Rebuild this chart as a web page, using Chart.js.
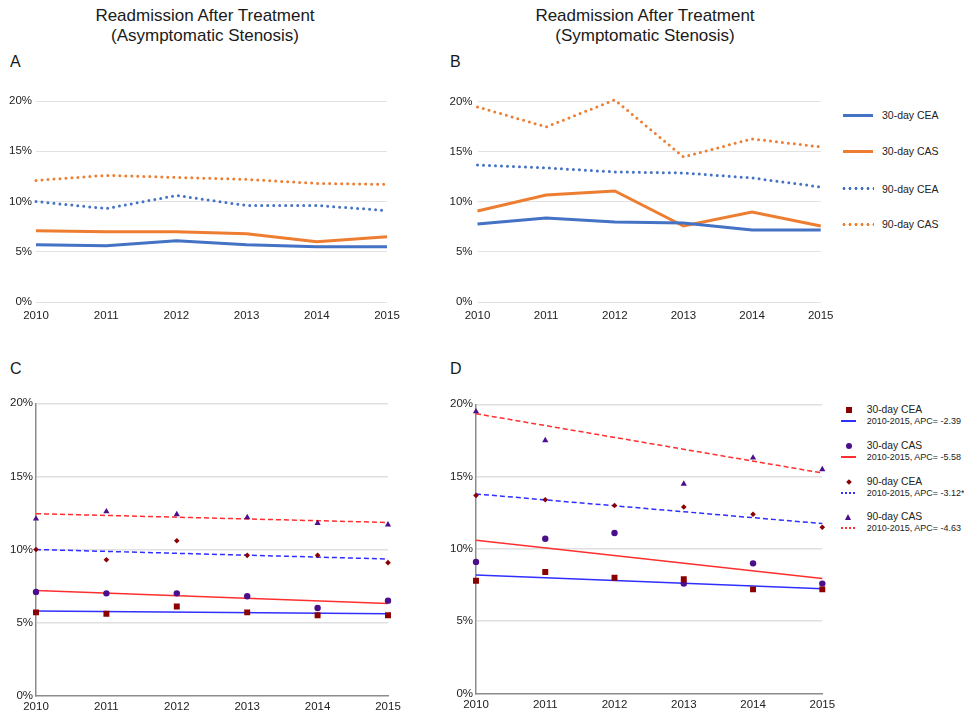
<!DOCTYPE html>
<html>
<head>
<meta charset="utf-8">
<script src="https://cdn.jsdelivr.net/npm/chart.js@4"></script>
<style>
  html, body { margin: 0; padding: 0; background: #fff; }
  body { width: 964px; height: 716px; position: relative; overflow: hidden;
         font-family: "Liberation Sans", Arial, sans-serif; color: #222; }
  canvas { position: absolute; }
  .title { position: absolute; width: 300px; text-align: center; font-size: 17px;
           line-height: 20px; color: #1a1a1a; }
  .letter { position: absolute; font-size: 16px; line-height: 16px; color: #1a1a1a; }
  .lg { position: absolute; font-size: 10.5px; line-height: 12px; white-space: nowrap; color: #222; }
  .sub { position: absolute; font-size: 9px; line-height: 10px; white-space: nowrap; color: #222; }
  .sw { position: absolute; }
</style>
</head>
<body>
<div class="title" style="left:55px;top:6px">Readmission After Treatment<br>(Asymptomatic Stenosis)</div>
<div class="title" style="left:495px;top:6px">Readmission After Treatment<br>(Symptomatic Stenosis)</div>
<div class="letter" style="left:10px;top:53.5px">A</div>
<div class="letter" style="left:450px;top:53.5px">B</div>
<div class="letter" style="left:10px;top:360.5px">C</div>
<div class="letter" style="left:450px;top:360.5px">D</div>

<canvas id="chartA" width="420" height="240" style="left:0;top:90px"></canvas>
<canvas id="chartB" width="400" height="240" style="left:440px;top:90px"></canvas>
<canvas id="chartC" width="420" height="326" style="left:0;top:390px"></canvas>
<canvas id="chartD" width="400" height="326" style="left:440px;top:390px"></canvas>
<div id="legendB"></div>
<div id="legendD"></div>

<script>
// Years on the x axis
const years = ['2010', '2011', '2012', '2013', '2014', '2015'];
const yTicks = [0, 5, 10, 15, 20];
const seriesNames = ['30-day CEA', '30-day CAS', '90-day CEA', '90-day CAS'];

// Readmission rates (%), asymptomatic stenosis
const cea30Asym = [5.7, 5.6, 6.1, 5.7, 5.5, 5.5];
const cas30Asym = [7.1, 7.0, 7.0, 6.8, 6.0, 6.5];
const cea90Asym = [10.0, 9.3, 10.6, 9.6, 9.6, 9.1];
const cas90Asym = [12.1, 12.6, 12.4, 12.2, 11.8, 11.7];

// Readmission rates (%), symptomatic stenosis
const cea30Sym = [7.8, 8.4, 8.0, 7.9, 7.2, 7.2];
const cas30Sym = [9.1, 10.7, 11.1, 7.6, 9.0, 7.6];
const cea90Sym = [13.7, 13.4, 13.0, 12.9, 12.4, 11.5];
const cas90Sym = [19.5, 17.5, 20.2, 14.5, 16.3, 15.5];

// Fitted trend, value at 2010 and at 2015 (%)
const trendCea30Asym = [5.8, 5.6];
const trendCas30Asym = [7.2, 6.3];
const trendCea90Asym = [10.0, 9.35];
const trendCas90Asym = [12.45, 11.85];
const trendCea30Sym = [8.2, 7.25];
const trendCas30Sym = [10.6, 7.95];
const trendCea90Sym = [13.8, 11.75];
const trendCas90Sym = [19.35, 15.25];

// Annual percent change for the symptomatic trends
const apcLabels = ['-2.39', '-5.58', '-3.12*', '-4.63'];
const trendPeriod = '2010-2015';

const BLUE = '#4472c4';
const ORANGE = '#ed7d31';
const DARK_RED = '#8b0000';
const INDIGO = '#4b0f8c';
const LINE_BLUE = '#2f2fff';
const LINE_RED = '#ff2f2f';
const FONT = { family: '"Liberation Sans", Arial, sans-serif', size: 11.5 };

function lineChart(id, series, yWidth, padRight, yPad) {
  const dotted = { borderDash: [0, 6], borderCapStyle: 'round' };
  const base = { borderWidth: 3, pointRadius: 0, tension: 0, clip: false, fill: false };
  return new Chart(document.getElementById(id), {
    type: 'line',
    data: {
      labels: years,
      datasets: [
        Object.assign({ data: series[0], borderColor: BLUE }, base),
        Object.assign({ data: series[1], borderColor: ORANGE }, base),
        Object.assign({ data: series[2], borderColor: BLUE }, base, dotted),
        Object.assign({ data: series[3], borderColor: ORANGE }, base, dotted)
      ]
    },
    options: {
      responsive: false, animation: false, events: [],
      layout: { padding: { left: 0, top: 11, right: padRight, bottom: 0 } },
      plugins: { legend: { display: false }, tooltip: { enabled: false } },
      scales: {
        x: {
          grid: { display: false, drawTicks: false }, border: { display: false },
          ticks: { font: FONT, color: '#222', padding: 6.5, maxRotation: 0, autoSkip: false },
          afterFit(s) { s.height = 28; }
        },
        y: {
          min: 0, max: 20,
          afterBuildTicks(s) { s.ticks = yTicks.map(v => ({ value: v })); },
          ticks: { font: FONT, color: '#222', padding: yPad, callback: v => v + '%' },
          grid: { color: '#e2e2e2', lineWidth: 1, drawTicks: false },
          border: { display: false },
          afterFit(s) { s.width = yWidth; }
        }
      }
    }
  });
}

function trendData(t) {
  return years.map((_, i) => i === 0 ? t[0] : (i === years.length - 1 ? t[1] : null));
}

function trendChart(id, series, trends, padTop, padRight, xHeight) {
  const clip = { left: 8, top: 0, right: 8, bottom: 8 };
  const marker = (data, style, color, r) => ({
    data, showLine: false, pointStyle: style, pointRadius: r,
    pointBackgroundColor: color, pointBorderColor: color, pointBorderWidth: 0, clip
  });
  const trend = (t, color, dash) => ({
    data: trendData(t), borderColor: color, borderWidth: 1.5, pointRadius: 0,
    spanGaps: true, tension: 0, borderDash: dash, clip: false
  });
  return new Chart(document.getElementById(id), {
    type: 'line',
    data: {
      labels: years,
      datasets: [
        marker(series[0], 'rect', DARK_RED, 4.2),
        marker(series[1], 'circle', INDIGO, 3.2),
        marker(series[2], 'rectRot', DARK_RED, 2.8),
        marker(series[3], 'triangle', INDIGO, 3.6),
        trend(trends[0], LINE_BLUE, []),
        trend(trends[1], LINE_RED, []),
        trend(trends[2], LINE_BLUE, [5, 3]),
        trend(trends[3], LINE_RED, [5, 3])
      ]
    },
    options: {
      responsive: false, animation: false, events: [],
      layout: { padding: { left: 0, top: padTop, right: padRight, bottom: 0 } },
      plugins: { legend: { display: false }, tooltip: { enabled: false } },
      scales: {
        x: {
          grid: { display: false, drawTicks: false },
          border: { display: true, color: '#8c8c8c', width: 1.5 },
          ticks: { font: FONT, color: '#222', padding: 4.5, maxRotation: 0, autoSkip: false },
          afterFit(s) { s.height = xHeight; }
        },
        y: {
          min: 0, max: 20,
          afterBuildTicks(s) { s.ticks = yTicks.map(v => ({ value: v })); },
          ticks: { font: FONT, color: '#222', padding: 3, callback: v => v + '%' },
          grid: {
            color: c => (c.tick && c.tick.value === 0) ? 'rgba(0,0,0,0)' : '#e0e0e0',
            lineWidth: 1.5, drawTicks: false
          },
          border: { display: true, color: '#8c8c8c', width: 1.5 },
          afterFit(s) { s.width = 36; }
        }
      }
    }
  });
}

lineChart('chartA', [cea30Asym, cas30Asym, cea90Asym, cas90Asym], 36, 33, 4);
lineChart('chartB', [cea30Sym, cas30Sym, cea90Sym, cas90Sym], 37.5, 14, 5);
trendChart('chartC', [cea30Asym, cas30Asym, cea90Asym, cas90Asym],
  [trendCea30Asym, trendCas30Asym, trendCea90Asym, trendCas90Asym], 13.3, 32, 20.3);
trendChart('chartD', [cea30Sym, cas30Sym, cea90Sym, cas90Sym],
  [trendCea30Sym, trendCas30Sym, trendCea90Sym, trendCas90Sym], 14.3, 17.7, 22.5);

// Legend for panel B: line swatches
(function () {
  const host = document.getElementById('legendB');
  const rows = [115, 151, 188.5, 224];
  const colors = [BLUE, ORANGE, BLUE, ORANGE];
  seriesNames.forEach((name, i) => {
    const sw = document.createElement('div');
    sw.className = 'sw';
    const y = rows[i];
    if (i < 2) {
      sw.style.cssText = `left:843px;top:${y - 1.5}px;width:30px;height:3px;background:${colors[i]};`;
    } else {
      sw.style.cssText = `left:841px;top:${y - 1.5}px;width:33px;height:3px;` +
        `background-image:radial-gradient(circle, ${colors[i]} 1.3px, rgba(255,255,255,0) 1.7px);` +
        `background-size:6px 3px;background-position:0 0;`;
    }
    host.appendChild(sw);
    const t = document.createElement('div');
    t.className = 'lg';
    t.style.left = '882px';
    t.style.top = (y - 6) + 'px';
    t.textContent = name;
    host.appendChild(t);
  });
})();

// Legend for panel D: marker + trend line with APC
(function () {
  const host = document.getElementById('legendD');
  const mainRows = [410, 446, 482, 517];
  const subRows = [421, 457, 493, 528];
  const lineColors = [LINE_BLUE, LINE_RED, LINE_BLUE, LINE_RED];
  const cx = 848.7;
  seriesNames.forEach((name, i) => {
    const y = mainRows[i];
    const m = document.createElement('div');
    m.className = 'sw';
    if (i === 0) {
      m.style.cssText = `left:${cx - 3}px;top:${y - 3}px;width:6px;height:6px;background:${DARK_RED};`;
    } else if (i === 1) {
      m.style.cssText = `left:${cx - 3}px;top:${y - 3}px;width:6px;height:6px;border-radius:50%;background:${INDIGO};`;
    } else if (i === 2) {
      m.style.cssText = `left:${cx - 2}px;top:${y - 2}px;width:4px;height:4px;transform:rotate(45deg);background:${DARK_RED};`;
    } else {
      m.style.cssText = `left:${cx - 3.5}px;top:${y - 3.5}px;width:0;height:0;` +
        `border-left:3.5px solid transparent;border-right:3.5px solid transparent;border-bottom:6px solid ${INDIGO};`;
    }
    host.appendChild(m);

    const ln = document.createElement('div');
    ln.className = 'sw';
    const ly = subRows[i];
    if (i < 2) {
      ln.style.cssText = `left:841px;top:${ly - 0.75}px;width:15px;height:1.5px;background:${lineColors[i]};`;
    } else {
      ln.style.cssText = `left:841px;top:${ly - 0.75}px;width:15px;height:1.5px;` +
        `background-image:repeating-linear-gradient(90deg, ${lineColors[i]} 0 2.5px, rgba(255,255,255,0) 2.5px 4px);`;
    }
    host.appendChild(ln);

    const t = document.createElement('div');
    t.className = 'lg';
    t.style.left = '866.7px';
    t.style.top = (y - 6) + 'px';
    t.style.fontSize = '10.3px';
    t.textContent = name;
    host.appendChild(t);

    const s = document.createElement('div');
    s.className = 'sub';
    s.style.left = '866.7px';
    s.style.top = (ly - 5) + 'px';
    s.textContent = trendPeriod + ', APC= ' + apcLabels[i];
    host.appendChild(s);
  });
})();
</script>
</body>
</html>
